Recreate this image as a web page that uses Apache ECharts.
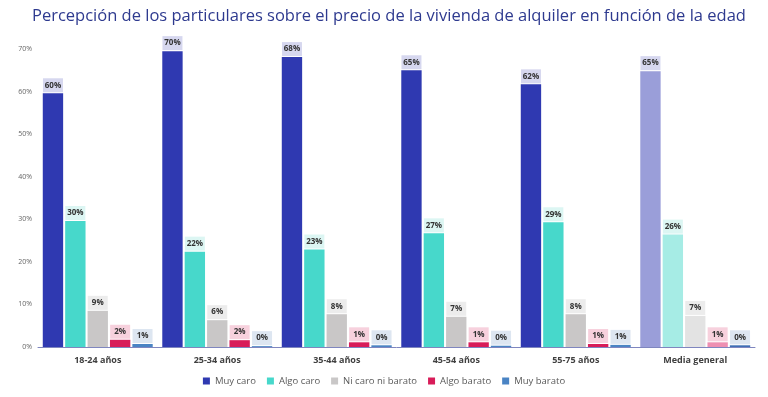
<!DOCTYPE html>
<html lang="es">
<head>
    <meta charset="UTF-8">
    <title>Percepción precio alquiler</title>
    <script src="https://cdn.jsdelivr.net/npm/echarts@6/dist/echarts.min.js"></script>
    <style>
        html, body { margin: 0; padding: 0; background: #fff; }
        #graph { width: 768px; height: 397px; }
    </style>
</head>
<body>
<div id="graph"></div>

<script>
    // data (bar heights in %, labels rounded)
    var categories = ['18-24 años', '25-34 años', '35-44 años', '45-54 años', '55-75 años', 'Media general'];
    var seriesNames = ['Muy caro', 'Algo caro', 'Ni caro ni barato', 'Algo barato', 'Muy barato'];
    var muyCaro = [59.6, 69.5, 68.1, 65.0, 61.7, 64.8];
    var algoCaro = [29.6, 22.4, 22.9, 26.7, 29.3, 26.4];
    var niCaro = [8.5, 6.3, 7.7, 7.1, 7.7, 7.3];
    var algoBarato = [1.7, 1.6, 1.1, 1.1, 0.7, 1.1];
    var muyBarato = [0.7, 0.2, 0.4, 0.3, 0.5, 0.4];
    var yTicks = [0, 10, 20, 30, 40, 50, 60, 70];

    var colors = ['#2f39b1', '#47d8cb', '#c9c7c7', '#d81c59', '#4a84c4'];
    var avgColors = ['#9a9ed9', '#a6ece5', '#e3e3e3', '#ee8fb1', '#3f6fb6'];
    var labelBg = ['#d6d7ef', '#dcf6f3', '#ececec', '#f7d1dd', '#dde6f1'];
    var allData = [muyCaro, algoCaro, niCaro, algoBarato, muyBarato];

    var chartDom = document.getElementById('graph');
    var myChart = echarts.init(chartDom);

    var series = [];
    for (var s = 0; s < seriesNames.length; s++) {
        series.push({
            name: seriesNames[s],
            type: 'bar',
            barGap: '10%',
            barCategoryGap: '8%',
            itemStyle: { color: colors[s] },
            label: {
                show: true,
                position: 'top',
                distance: 1,
                formatter: function (p) { return Math.round(p.value) + '%'; },
                color: '#333',
                fontFamily: 'Open Sans',
                fontWeight: 'bold',
                fontSize: 8,
                backgroundColor: labelBg[s],
                width: 16,
                align: 'center',
                padding: [3, 2, 3, 2]
            },
            data: allData[s].map(function (v, i) {
                if (i === categories.length - 1) {
                    return { value: v, itemStyle: { color: avgColors[s] } };
                }
                return v;
            })
        });
    }

    var option = {
        animation: false,
        title: {
            text: 'Percepción de los particulares sobre el precio de la vivienda de alquiler en función de la edad',
            left: 27,
            top: 3,
            textStyle: {
                color: '#2e3a8f',
                fontFamily: 'Open Sans',
                fontWeight: 'normal',
                fontSize: 16.5
            }
        },
        legend: {
            data: seriesNames,
            bottom: 6,
            left: 'center',
            itemWidth: 7,
            itemHeight: 7,
            itemGap: 11,
            icon: 'rect',
            textStyle: { color: '#595959', fontFamily: 'Open Sans', fontSize: 9.5 }
        },
        grid: {
            left: 38,
            right: 13,
            top: 49,
            bottom: 50
        },
        xAxis: {
            type: 'category',
            data: categories,
            axisLine: { lineStyle: { color: '#7f86bf', width: 1 } },
            axisTick: { show: false },
            axisLabel: {
                color: '#404040',
                fontFamily: 'Open Sans',
                fontWeight: 'bold',
                fontSize: 9,
                margin: 9
            }
        },
        yAxis: {
            type: 'value',
            min: yTicks[0],
            max: yTicks[yTicks.length - 1],
            interval: 10,
            splitLine: { show: false },
            axisLine: { show: false },
            axisTick: { show: false },
            axisLabel: {
                formatter: '{value}%',
                color: '#666',
                fontFamily: 'Open Sans',
                fontSize: 7,
                margin: 6
            }
        },
        series: series
    };

    option && myChart.setOption(option);
</script>
</body>
</html>
